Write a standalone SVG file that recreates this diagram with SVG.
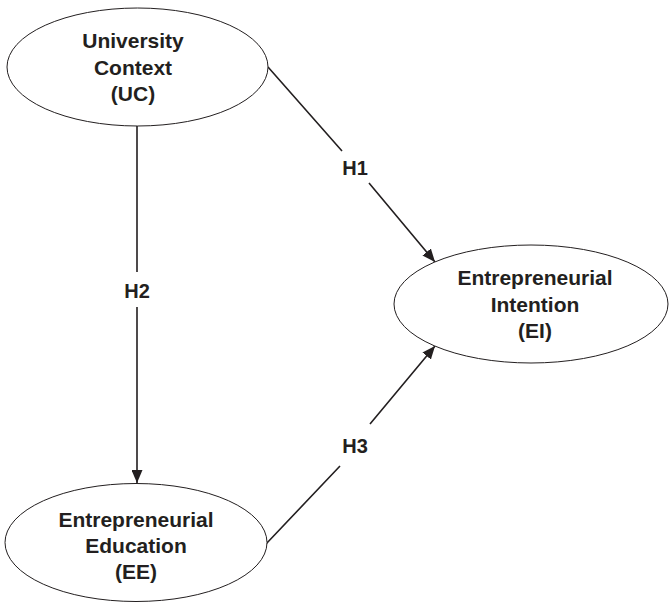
<svg xmlns="http://www.w3.org/2000/svg" width="670" height="603" viewBox="0 0 670 603">
<style>
.node ellipse{fill:#fff;stroke:#231f20;stroke-width:1}
.t{font-family:"Liberation Sans",Arial,sans-serif;font-weight:bold;font-size:21px;fill:#231f20;text-anchor:middle}
.lbl{font-size:20px}
.edge{fill:none;stroke:#231f20;stroke-width:1.6}
</style>
<defs>
<marker id="arr" markerUnits="userSpaceOnUse" markerWidth="13" markerHeight="11" refX="13" refY="5.5" orient="auto">
<path d="M0,0 L13,5.5 L0,11 z" fill="#231f20"/>
</marker>
</defs>
<g id="connectors">
<path class="edge" d="M268,67 L342,151 M369,183 L435,262" marker-end="url(#arr)"/>
<path class="edge" d="M137,126 L137,272 M137,307 L137,483" marker-end="url(#arr)"/>
<path class="edge" d="M266,544 L340,466 M370,424 L435,346" marker-end="url(#arr)"/>
<text class="t lbl" x="355" y="175">H1</text>
<text class="t lbl" x="137" y="298">H2</text>
<text class="t lbl" x="355" y="453">H3</text>
</g>
<g id="UC" class="node">
<ellipse cx="137.5" cy="67" rx="130.5" ry="59"/>
<text class="t" x="133" y="48">University</text>
<text class="t" x="133" y="75">Context</text>
<text class="t" x="133" y="101">(UC)</text>
</g>
<g id="EI" class="node">
<ellipse cx="531" cy="304" rx="137" ry="59"/>
<text class="t" x="535" y="285">Entrepreneurial</text>
<text class="t" x="535" y="312">Intention</text>
<text class="t" x="535" y="338">(EI)</text>
</g>
<g id="EE" class="node">
<ellipse cx="136" cy="542.5" rx="131" ry="59"/>
<text class="t" x="136" y="527">Entrepreneurial</text>
<text class="t" x="136" y="553">Education</text>
<text class="t" x="136" y="579">(EE)</text>
</g>
</svg>
